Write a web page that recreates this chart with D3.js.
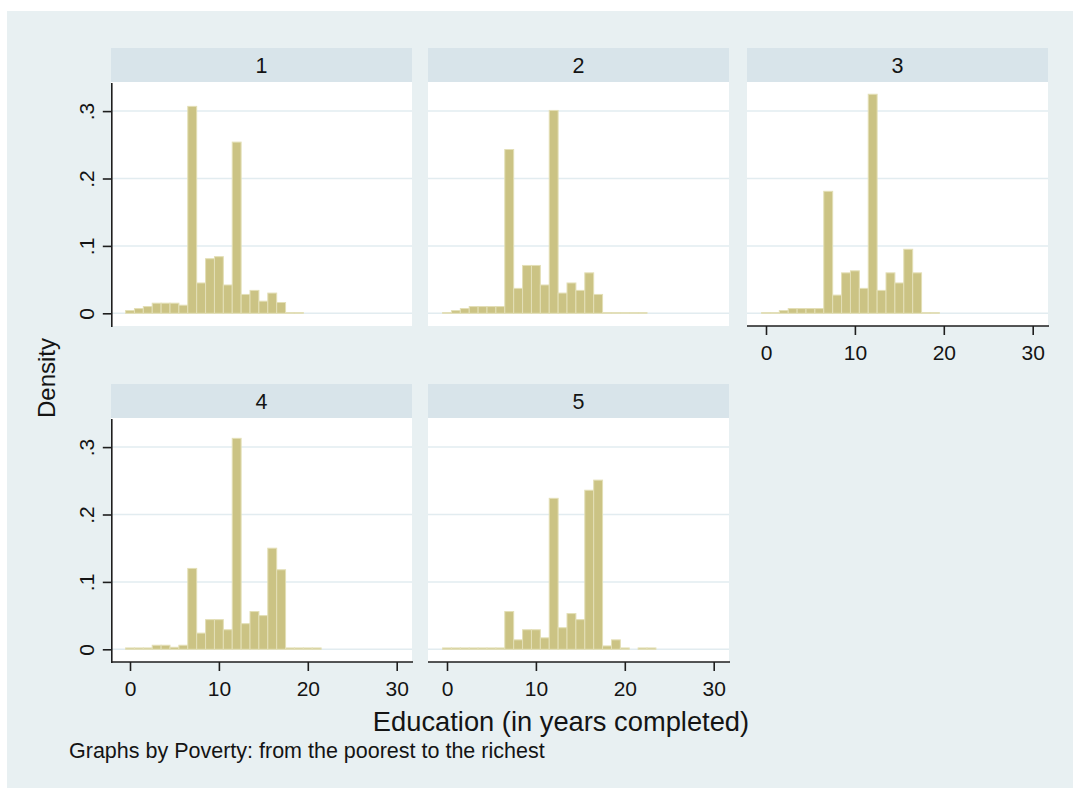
<!DOCTYPE html>
<html>
<head>
<meta charset="utf-8">
<script src="https://cdn.jsdelivr.net/npm/d3@7"></script>
<style>
  html, body { margin: 0; padding: 0; background: #ffffff; }
  svg { display: block; font-family: "Liberation Sans", Arial, sans-serif; }
</style>
</head>
<body>
<svg id="chart" width="1073" height="788"></svg>
<script>
// Histogram densities of completed years of education (bins centred on whole years, width 1),
// one array per poverty quintile, index = years of education starting at 0.
const densityQ1 = [0.004, 0.007, 0.010, 0.015, 0.015, 0.015, 0.012, 0.307, 0.045, 0.081,
                   0.084, 0.042, 0.254, 0.028, 0.034, 0.018, 0.030, 0.016, 0.001, 0.001];
const densityQ2 = [0.001, 0.004, 0.007, 0.010, 0.010, 0.010, 0.010, 0.243, 0.037, 0.071,
                   0.071, 0.042, 0.301, 0.030, 0.045, 0.034, 0.060, 0.028, 0.001, 0.001,
                   0.001, 0.001, 0.001];
const densityQ3 = [0.001, 0.001, 0.004, 0.007, 0.007, 0.007, 0.007, 0.181, 0.027, 0.060,
                   0.063, 0.037, 0.325, 0.034, 0.060, 0.045, 0.095, 0.060, 0.001, 0.001];
const densityQ4 = [0.002, 0.002, 0.002, 0.006, 0.006, 0.003, 0.006, 0.120, 0.024, 0.044,
                   0.044, 0.029, 0.313, 0.038, 0.056, 0.050, 0.150, 0.118, 0.002, 0.002,
                   0.002, 0.002];
const densityQ5 = [0.002, 0.002, 0.002, 0.002, 0.002, 0.002, 0.002, 0.056, 0.014, 0.029,
                   0.029, 0.017, 0.224, 0.032, 0.053, 0.044, 0.236, 0.251, 0.005, 0.014,
                   0.002, 0.000, 0.002, 0.002];

const panelLabels = ["1", "2", "3", "4", "5"];
const xTicks = [0, 10, 20, 30];
const yTicks = [0, 0.1, 0.2, 0.3];
const yTickLabels = ["0", ".1", ".2", ".3"];
const xTitle = "Education (in years completed)";
const yTitle = "Density";
const note = "Graphs by Poverty: from the poorest to the richest";

// ---- layout ----
const colLeft = [111, 428, 747];
const rowTop = [48, 384];
const panelW = 301, stripH = 34, plotH = 244;

const panels = [
  { label: panelLabels[0], data: densityQ1, col: 0, row: 0, yAxis: true,  xAxis: false },
  { label: panelLabels[1], data: densityQ2, col: 1, row: 0, yAxis: false, xAxis: false },
  { label: panelLabels[2], data: densityQ3, col: 2, row: 0, yAxis: false, xAxis: true  },
  { label: panelLabels[3], data: densityQ4, col: 0, row: 1, yAxis: true,  xAxis: true  },
  { label: panelLabels[4], data: densityQ5, col: 1, row: 1, yAxis: false, xAxis: true  }
];

const colors = {
  graph: "#e8f0f2",
  strip: "#d8e4ea",
  plot: "#ffffff",
  grid: "#e2ecf0",
  bar: "#cbc384",
  barEdge: "#e3dfb6",
  axis: "#1e1e1e",
  text: "#141414"
};

const svg = d3.select("#chart");

svg.append("rect").attr("x", 7).attr("y", 11)
  .attr("width", 1073 - 7).attr("height", 788 - 11)
  .attr("fill", colors.graph);

panels.forEach(p => {
  const left = colLeft[p.col];
  const top = rowTop[p.row];
  const plotTop = top + stripH;
  const plotBottom = plotTop + plotH;

  const x = d3.scaleLinear().domain([0, 30]).range([left + 19, left + 285.7]);
  const y = d3.scaleLinear().domain([0, 0.3]).range([plotBottom - 12.7, plotBottom - 12.7 - 202.2]);

  const g = svg.append("g");

  // strip with the panel's quintile label
  g.append("rect").attr("x", left).attr("y", top)
    .attr("width", panelW).attr("height", stripH).attr("fill", colors.strip);
  g.append("text").attr("x", left + panelW / 2).attr("y", top + 24.5)
    .attr("text-anchor", "middle").attr("font-size", 21.5).attr("fill", colors.text)
    .text(p.label);

  // plot region
  g.append("rect").attr("x", left).attr("y", plotTop)
    .attr("width", panelW).attr("height", plotH).attr("fill", colors.plot);

  // horizontal grid lines
  g.selectAll(".grid").data(yTicks).join("line")
    .attr("x1", left).attr("x2", left + panelW)
    .attr("y1", d => y(d)).attr("y2", d => y(d))
    .attr("stroke", colors.grid).attr("stroke-width", 1.5);

  // histogram bars
  g.selectAll(".bar").data(p.data).join("rect")
    .attr("x", (d, i) => x(i - 0.5))
    .attr("width", (d, i) => x(i + 0.5) - x(i - 0.5))
    .attr("y", d => y(d))
    .attr("height", d => y(0) - y(d))
    .attr("fill", colors.bar)
    .attr("stroke", colors.barEdge)
    .attr("stroke-width", 1);

  if (p.yAxis) {
    const ax = g.append("g").attr("transform", `translate(${left + 0.8},0)`)
      .call(d3.axisLeft(y).tickValues(yTicks).tickSize(9)
        .tickFormat((d, i) => yTickLabels[i]));
    ax.select(".domain").remove();
    ax.selectAll(".tick line").attr("stroke", colors.axis).attr("stroke-width", 1.6);
    ax.selectAll(".tick text")
      .attr("x", null).attr("dy", null)
      .attr("text-anchor", "middle")
      .attr("transform", "translate(-18,0) rotate(-90)")
      .attr("font-size", 21).attr("font-family", null).attr("fill", colors.text);
    g.append("line").attr("x1", left + 0.8).attr("x2", left + 0.8)
      .attr("y1", plotTop + 1).attr("y2", plotBottom + 1)
      .attr("stroke", colors.axis).attr("stroke-width", 1.6);
  }

  if (p.xAxis) {
    const ax = g.append("g").attr("transform", `translate(0,${plotBottom})`)
      .call(d3.axisBottom(x).tickValues(xTicks).tickSize(9).tickFormat(d3.format("d")));
    ax.select(".domain").remove();
    ax.selectAll(".tick line").attr("stroke", colors.axis).attr("stroke-width", 1.6);
    ax.selectAll(".tick text")
      .attr("y", 34).attr("dy", null)
      .attr("font-size", 21).attr("font-family", null).attr("fill", colors.text);
    g.append("line").attr("x1", left).attr("x2", left + panelW + 1)
      .attr("y1", plotBottom).attr("y2", plotBottom)
      .attr("stroke", colors.axis).attr("stroke-width", 1.6);
  }
});

// shared axis titles and note
svg.append("text")
  .attr("transform", "translate(55,378) rotate(-90)")
  .attr("text-anchor", "middle").attr("font-size", 24).attr("fill", colors.text)
  .text(yTitle);

svg.append("text")
  .attr("x", 561).attr("y", 731)
  .attr("text-anchor", "middle").attr("font-size", 27.3).attr("fill", colors.text)
  .text(xTitle);

svg.append("text")
  .attr("x", 69).attr("y", 757.5)
  .attr("font-size", 21.5).attr("fill", colors.text)
  .text(note);
</script>
</body>
</html>
